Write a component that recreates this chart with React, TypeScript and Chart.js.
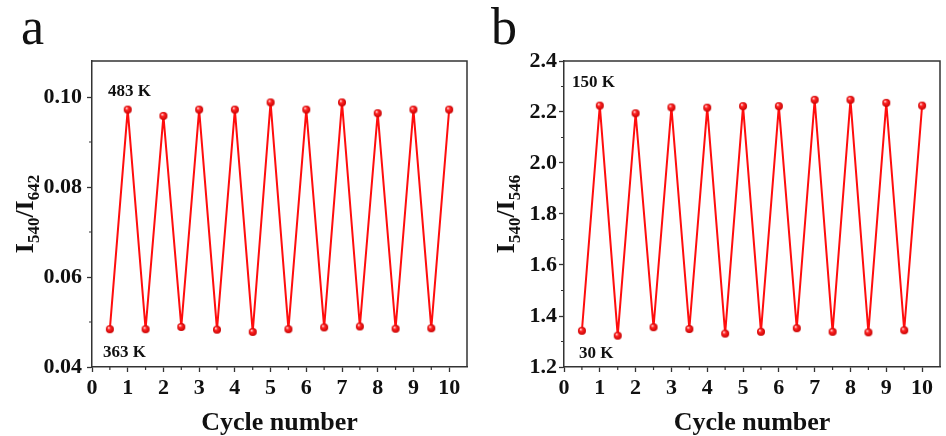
import React, { useEffect, useRef } from 'react';
import { Chart, registerables } from 'chart.js';

Chart.register(...registerables);

// ---------- data ----------
const cycleX = [0.5, 1, 1.5, 2, 2.5, 3, 3.5, 4, 4.5, 5, 5.5, 6, 6.5, 7, 7.5, 8, 8.5, 9, 9.5, 10];
const ratioA = [0.0484, 0.0972, 0.0484, 0.0958, 0.0489, 0.0972, 0.0483, 0.0972, 0.0478, 0.0988,
  0.0484, 0.0972, 0.0488, 0.0988, 0.0490, 0.0964, 0.0485, 0.0972, 0.0486, 0.0972];
const ratioB = [1.342, 2.225, 1.323, 2.195, 1.356, 2.218, 1.349, 2.217, 1.331, 2.223,
  1.338, 2.223, 1.352, 2.248, 1.338, 2.248, 1.336, 2.236, 1.344, 2.225];
const xTicks = [0, 1, 2, 3, 4, 5, 6, 7, 8, 9, 10];
const xMinorTicks = [0.5, 1.5, 2.5, 3.5, 4.5, 5.5, 6.5, 7.5, 8.5, 9.5];
const yTicksA = [0.04, 0.06, 0.08, 0.10];
const yMinorA = [0.05, 0.07, 0.09];
const yTicksB = [1.2, 1.4, 1.6, 1.8, 2.0, 2.2, 2.4];
const yMinorB = [1.3, 1.5, 1.7, 1.9, 2.1, 2.3];
const xTitle = 'Cycle number';

const SERIF = '"Liberation Serif", "Times New Roman", serif';
const AXIS = '#333333';
const RED = '#ff0d0d';

type PanelCfg = {
  letter: string;
  offset: number;
  values: number[];
  yMin: number; yMax: number;
  yTicks: number[]; yMinor: number[];
  decimals: number;
  subs: [string, string];
  hi: string; lo: string;
  hiPos: [number, number]; loPos: [number, number];
  padRight: number; yWidth: number; yPad: number;
  titleX: number; letterX: number;
};

const panels: PanelCfg[] = [
  {
    letter: 'a', offset: 0, values: ratioA, yMin: 0.04, yMax: 0.108,
    yTicks: yTicksA, yMinor: yMinorA, decimals: 2, subs: ['540', '642'],
    hi: '483 K', lo: '363 K', hiPos: [108, 96], loPos: [103, 357],
    padRight: 1, yWidth: 92, yPad: 5, titleX: 33, letterX: 21,
  },
  {
    letter: 'b', offset: 473, values: ratioB, yMin: 1.2, yMax: 2.4,
    yTicks: yTicksB, yMinor: yMinorB, decimals: 1, subs: ['540', '546'],
    hi: '150 K', lo: '30 K', hiPos: [99, 87], loPos: [106, 358],
    padRight: 3, yWidth: 91, yPad: 2, titleX: 41, letterX: 18,
  },
];

function makeSphere(r: number) {
  const c = document.createElement('canvas');
  const s = r * 2 + 2;
  c.width = s; c.height = s;
  const g = c.getContext('2d')!;
  const cx = s / 2;
  const grad = g.createRadialGradient(cx - r * 0.35, cx - r * 0.4, r * 0.1, cx, cx, r);
  grad.addColorStop(0, '#ffd6d6');
  grad.addColorStop(0.35, '#ff2525');
  grad.addColorStop(1, '#c80000');
  g.fillStyle = grad;
  g.beginPath(); g.arc(cx, cx, r, 0, Math.PI * 2); g.fill();
  return c;
}

function makeDecor(p: PanelCfg) {
  return {
    id: 'decor',
    afterDraw(chart: any) {
      const ctx = chart.ctx as CanvasRenderingContext2D;
      const { left, right, top, bottom } = chart.chartArea;
      const xs = chart.scales.x, ys = chart.scales.y;
      ctx.save();
      // frame top / right
      ctx.strokeStyle = AXIS; ctx.lineWidth = 1.5;
      ctx.beginPath(); ctx.moveTo(left, top); ctx.lineTo(right, top); ctx.lineTo(right, bottom); ctx.stroke();
      // minor ticks
      ctx.lineWidth = 1.2;
      ctx.beginPath();
      xMinorTicks.forEach(v => { const px = xs.getPixelForValue(v); ctx.moveTo(px, bottom); ctx.lineTo(px, bottom + 3); });
      p.yMinor.forEach(v => { const py = ys.getPixelForValue(v); ctx.moveTo(left, py); ctx.lineTo(left - 3, py); });
      ctx.stroke();
      // annotations
      ctx.fillStyle = '#111';
      ctx.font = `bold 17px ${SERIF}`;
      ctx.textAlign = 'left'; ctx.textBaseline = 'alphabetic';
      ctx.fillText(p.hi, p.hiPos[0], p.hiPos[1]);
      ctx.fillText(p.lo, p.loPos[0], p.loPos[1]);
      // panel letter
      ctx.font = `52px ${SERIF}`;
      ctx.fillText(p.letter, p.letterX, 44);
      // x title
      ctx.font = `bold 26px ${SERIF}`;
      ctx.textAlign = 'center';
      ctx.fillText(xTitle, (left + right) / 2, 430);
      // y title with subscripts
      const big = `bold 26px ${SERIF}`, small = `bold 17px ${SERIF}`;
      const parts: [string, string, number][] = [
        ['I', big, 0], [p.subs[0], small, 6], ['/', big, 0], ['I', big, 0], [p.subs[1], small, 6],
      ];
      let total = 0;
      parts.forEach(([t, f]) => { ctx.font = f; total += ctx.measureText(t).width; });
      ctx.translate(p.titleX, (top + bottom) / 2);
      ctx.rotate(-Math.PI / 2);
      ctx.textAlign = 'left';
      let x = -total / 2;
      parts.forEach(([t, f, dy]) => { ctx.font = f; ctx.fillText(t, x, dy); x += ctx.measureText(t).width; });
      ctx.restore();
    },
  };
}

function Panel({ p }: { p: PanelCfg }) {
  const ref = useRef<HTMLCanvasElement>(null);
  useEffect(() => {
    const sphere = makeSphere(4);
    const chart = new Chart(ref.current!, {
      type: 'line',
      data: {
        datasets: [{
          data: cycleX.map((x, i) => ({ x, y: p.values[i] })),
          borderColor: RED, borderWidth: 2,
          pointStyle: sphere as any, pointRadius: 4,
          backgroundColor: RED,
          tension: 0,
        }],
      },
      options: {
        animation: false, responsive: false, devicePixelRatio: 1,
        layout: { padding: { left: 0, right: p.padRight, top: 61, bottom: 0 } },
        plugins: { legend: { display: false }, tooltip: { enabled: false } },
        scales: {
          x: {
            type: 'linear', min: 0, max: 10.5,
            afterFit: (s: any) => { s.height = 69; },
            afterBuildTicks: (s: any) => { s.ticks = xTicks.map(v => ({ value: v })); },
            grid: { display: true, drawOnChartArea: false, drawTicks: true, tickLength: 5, tickWidth: 1.3, tickColor: AXIS },
            border: { display: true, color: AXIS, width: 1.5 },
            ticks: { color: '#111', font: { family: SERIF, size: 22, weight: 'bold' }, padding: 3, maxRotation: 0, autoSkip: false,
              callback: (v: any) => String(v) },
          },
          y: {
            type: 'linear', min: p.yMin, max: p.yMax,
            afterFit: (s: any) => { s.width = p.yWidth; },
            afterBuildTicks: (s: any) => { s.ticks = p.yTicks.map(v => ({ value: v })); },
            grid: { display: true, drawOnChartArea: false, drawTicks: true, tickLength: 5, tickWidth: 1.3, tickColor: AXIS },
            border: { display: true, color: AXIS, width: 1.5 },
            ticks: { color: '#111', font: { family: SERIF, size: 22, weight: 'bold' }, padding: p.yPad, autoSkip: false,
              callback: (v: any) => Number(v).toFixed(p.decimals) },
          },
        },
      } as any,
      plugins: [makeDecor(p)],
    });
    return () => chart.destroy();
  }, []);
  return (
    <canvas ref={ref} width={473} height={436}
      style={{ position: 'absolute', left: p.offset, top: 0, width: 473, height: 436 }} />
  );
}

export default function App() {
  return (
    <div style={{ position: 'fixed', left: 0, top: 0, width: 946, height: 436, background: '#fff' }}>
      {panels.map(p => <Panel key={p.letter} p={p} />)}
    </div>
  );
}
